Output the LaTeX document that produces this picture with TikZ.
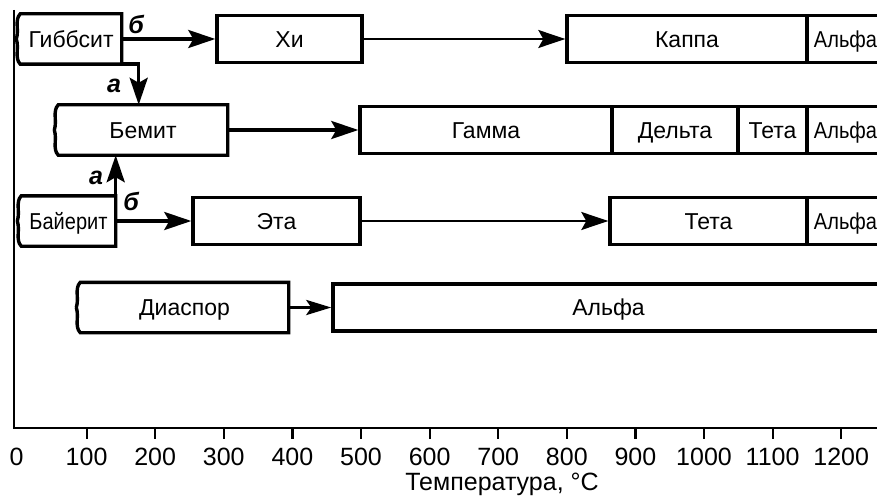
\documentclass[tikz,border=0pt]{standalone}
\usepackage{fontspec}
\setmainfont{Liberation Sans}
\newfontfamily\narrowfont{Liberation Sans}[FakeStretch=0.87]
\usetikzlibrary{arrows.meta,calc}

\tikzset{
  frame/.style={line width=3.4pt},
  phase/.style={frame, draw, inner sep=0pt, minimum height=47pt,
    text height=16.5pt, text depth=0pt, font=\fontsize{23}{27}\selectfont},
  seedbox/.style={phase, draw=none},
  narrow/.style={font=\narrowfont\fontsize{23}{27}\selectfont},
  conv/.style={line width=3.4pt, -{Stealth[length=27pt,width=18pt,inset=5pt]}},
  slowconv/.style={conv, line width=2.2pt},
  route/.style={font=\fontsize{25}{29}\selectfont\bfseries\itshape, inner sep=0pt},
  axisline/.style={line width=2.8pt},
  axistick/.style={line width=2.2pt},
  ticklabel/.style={anchor=base, inner sep=0pt, font=\fontsize{25}{29}\selectfont},
}

\begin{document}
\begin{tikzpicture}[x=1pt, y=-1pt]
\useasboundingbox (0,0) rectangle (877,500);
\clip (0,0) rectangle (877,500);

% row 1: gibbsite
\node[seedbox, minimum width=98pt] (gib) at (71,39) {Гиббсит};
\node[phase, minimum width=145pt] (hi) at (289.5,39) {Хи};
\node[phase, minimum width=240pt] (kap) at (687,39) {Каппа};
\node[phase, narrow, minimum width=77pt] (al1) at (845.5,39) {Альфа};

% row 2: boehmite
\node[seedbox, minimum width=166pt] (bem) at (143,130) {Бемит};
\node[phase, minimum width=252pt] (gam) at (486,130) {Гамма};
\node[phase, minimum width=126pt] (del) at (675,130) {Дельта};
\node[phase, minimum width=69pt] (tet2) at (772.5,130) {Тета};
\node[phase, narrow, minimum width=77pt] (al2) at (845.5,130) {Альфа};

% row 3: bayerite
\node[seedbox, narrow, minimum width=91pt] (bay) at (68.5,221) {Байерит};
\node[phase, minimum width=167pt] (eta) at (276.5,221) {Эта};
\node[phase, minimum width=197pt] (tet3) at (708.5,221) {Тета};
\node[phase, narrow, minimum width=77pt] (al3) at (845.5,221) {Альфа};

% row 4: diaspore
\node[seedbox, minimum width=205pt] (dia) at (184.5,307.5) {Диаспор};
\node[phase, minimum width=551pt] (al4) at (608.5,307.5) {Альфа};

% starting phases have a wavy left edge
\foreach \n in {gib,bem,bay,dia}
  \draw[frame] ($(\n.west)+(-4,0)$) .. controls +(3,-9) and +(-6,6) .. (\n.north west)
    -- (\n.north east) -- (\n.south east) -- (\n.south west)
    .. controls +(-6,-6) and +(3,9) .. ($(\n.west)+(-4,0)$);

% transformations
\draw[conv] (gib.east) -- (hi.west);
\draw[conv] (gib.south east) -- ++(17,0) coordinate (gdrop) -- (gdrop |- bem.north);
\draw[slowconv] (hi.east) -- (kap.west);
\draw[conv] (bem.east) -- (gam.west);
\draw[conv] (bay.north east) -- (bay.north east |- bem.south);
\draw[conv] (bay.east) -- (eta.west);
\draw[slowconv] (eta.east) -- (tet3.west);
\draw[conv, -{Stealth[length=25pt,width=15pt,inset=5pt]}] (dia.east) -- (al4.west);

% route labels
\node[route] (bg) at (136,24) {б};
\node[route] (ag) at (114,86) {а};
\node[route] (ab) at (96,178) {а};
\node[route] (bb) at (131,201) {б};

% temperature axis
\coordinate (org) at (14,428);
\coordinate (ytop) at (14,10);
\coordinate (xend) at (877,428);
\draw[axisline] (ytop) -- (org) -- (xend);
\node[ticklabel] (t0) at (16.5,465) {0};
\foreach \t in {100,200,...,1200} {
  \draw[axistick] (18+0.686*\t,428) -- ++(0,11);
  \node[ticklabel] (t\t) at (18+0.686*\t,465) {\t};
}
\node[anchor=base, inner sep=0pt, font=\fontsize{25}{30}\selectfont] (title) at (502,490) {Температура, °C};
\end{tikzpicture}
\end{document}
